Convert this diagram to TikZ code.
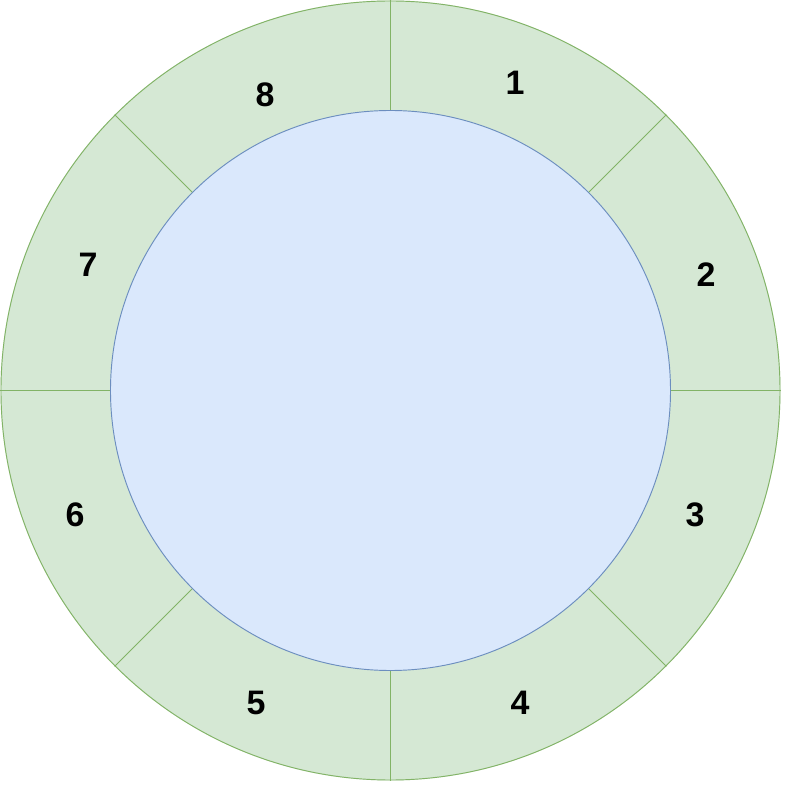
\documentclass[tikz,border=0pt]{standalone}
\usepackage{fontspec}
\setmainfont{Liberation Sans}
\definecolor{ringfill}{HTML}{D5E8D4}
\definecolor{ringline}{HTML}{82B366}
\definecolor{hubfill}{HTML}{DAE8FC}
\definecolor{hubline}{HTML}{6C8EBF}
\tikzset{
  sector/.style={font=\fontsize{29}{34}\selectfont\bfseries},
}
\begin{document}
\begin{tikzpicture}[x=0.3mm, y=0.3mm, line width=0.8pt]
    \useasboundingbox (-390.5,-394.5) rectangle (394.5,390.5);
    % Centre of the dial
    \coordinate (O) at (0,0);
    % Outer ring
    \fill[ringfill] (O) circle (390);
    \draw[ringline] (O) circle (389.5);

    % Spokes between the eight sectors
    \coordinate (s0) at (0:390);   \coordinate (t0) at (0:280);
    \coordinate (s1) at (45:390);  \coordinate (t1) at (45:280);
    \coordinate (s2) at (90:390);  \coordinate (t2) at (90:280);
    \coordinate (s3) at (135:390); \coordinate (t3) at (135:280);
    \coordinate (s4) at (180:390); \coordinate (t4) at (180:280);
    \coordinate (s5) at (225:390); \coordinate (t5) at (225:280);
    \coordinate (s6) at (270:390); \coordinate (t6) at (270:280);
    \coordinate (s7) at (315:390); \coordinate (t7) at (315:280);
    \draw[ringline] (t0) -- (s0);
    \draw[ringline] (t1) -- (s1);
    \draw[ringline] (t2) -- (s2);
    \draw[ringline] (t3) -- (s3);
    \draw[ringline] (t4) -- (s4);
    \draw[ringline] (t5) -- (s5);
    \draw[ringline] (t6) -- (s6);
    \draw[ringline] (t7) -- (s7);

    % Inner disc
    \filldraw[fill=hubfill, draw=hubline] (O) circle (280);

    % Sector numbers
    \node[sector] (n1) at (124.5,307.5) {1};
    \node[sector] (n2) at (315.5,115.5) {2};
    \node[sector] (n3) at (304.5,-124.5) {3};
    \node[sector] (n4) at (129.5,-312.5) {4};
    \node[sector] (n5) at (-134.5,-312.5) {5};
    \node[sector] (n6) at (-315.5,-124.5) {6};
    \node[sector] (n7) at (-302.5,125.5) {7};
    \node[sector] (n8) at (-125.5,295.5) {8};
\end{tikzpicture}
\end{document}
